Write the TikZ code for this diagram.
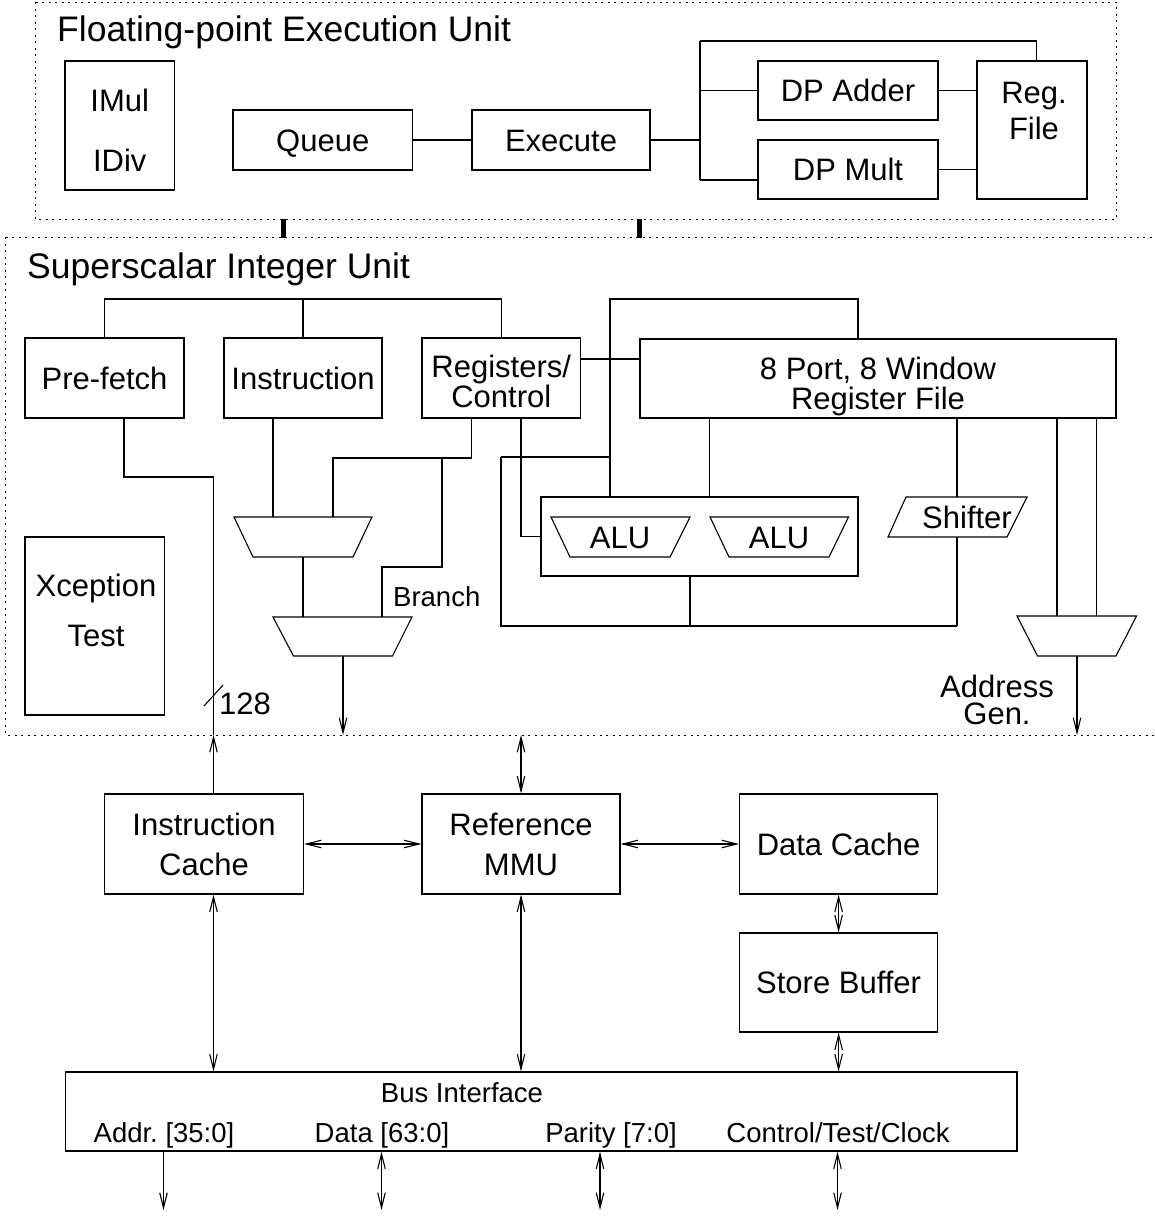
\documentclass[tikz,border=0pt]{standalone}
\usepackage{fontspec}
\setmainfont{Liberation Sans}
\usetikzlibrary{arrows.meta}
\frenchspacing

\tikzset{
  one/.style={text height=22.2pt, text depth=0pt},
  onesmall/.style={text height=19.7pt, text depth=0pt},
  blk/.style={draw, line width=1.1pt, inner sep=0pt, align=center,
              font=\fontsize{31}{30}\selectfont},
  lbl/.style={inner sep=0pt, align=center, font=\fontsize{31}{30}\selectfont},
  small/.style={inner sep=0pt, align=center, font=\fontsize{27.5}{30}\selectfont, onesmall},
  heading/.style={inner sep=0pt, anchor=base west, font=\fontsize{35.5}{40}\selectfont},
  unitbox/.style={draw, line width=1pt, dash pattern=on 2pt off 4.5pt},
  wire/.style={line width=1.1pt},
  shp/.style={draw, line width=1.1pt},
  barb/.tip={Straight Barb[length=15pt,width=7.5pt]},
  arr/.style={wire, -barb},
  darr/.style={wire, barb-barb},
  link/.style={line width=5pt}
}

\begin{document}
\begin{tikzpicture}[x=1pt,y=-1pt]
\useasboundingbox (0,0) rectangle (1155,1218);

% ---------------- Floating-point execution unit ----------------
\draw[unitbox] (35,2) rectangle (1116,219);
\node[heading] (fptitle) at (57,41) {Floating-point Execution Unit};

\node[blk, minimum width=109.5pt, minimum height=129pt] (imul) at (119.75,125.5) {};
\node[lbl, one] (imultxt) at (119.75,100) {IMul};
\node[lbl, one] (idivtxt) at (119.75,160) {IDiv};

\node[blk, one, minimum width=179.5pt, minimum height=60pt] (queue) at (322.75,140) {Queue};
\node[blk, one, minimum width=178pt, minimum height=60pt] (exec) at (561,140) {Execute};
\node[blk, one, minimum width=180pt, minimum height=59pt] (dpadd) at (848,90.5) {DP Adder};
\node[blk, one, minimum width=180pt, minimum height=59pt] (dpmul) at (848,169.5) {DP Mult};
\node[blk, minimum width=110pt, minimum height=138pt] (regf) at (1032,130) {};
\node[lbl, font=\fontsize{31}{36}\selectfont] (regftxt) at (1034,111) {Reg.\\File};

\coordinate (fpbus) at (700,140);
\coordinate (fptop) at (700,41);
\coordinate (fpbot) at (700,180);
\draw[wire] (queue) -- (exec);
\draw[wire] (exec.east) -- (fpbus);
\draw[wire] (fptop) -- (fpbot);
\draw[wire] (fptop) -| ([xshift=4.5pt]regf.north);
\draw[wire] (fptop |- dpadd.west) -- (dpadd.west);
\draw[wire] (fpbot) -- (dpmul.west |- fpbot);
\draw[wire] (dpadd.east) -- (regf.west |- dpadd.east);
\draw[wire] (dpmul.east) -- (regf.west |- dpmul.east);

% links between the two units
\draw[link] (283,219) -- (283,238);
\draw[link] (639,219) -- (639,238);

% ---------------- Superscalar integer unit ----------------
\draw[unitbox] (5.5,237) -- (1170,237);
\draw[unitbox] (5.5,237) -- (5.5,735) -- (1170,735);
\node[heading] (iutitle) at (27,278) {Superscalar Integer Unit};

\node[blk, one, minimum width=159pt, minimum height=80pt] (pf) at (104.5,378) {Pre-fetch};
\node[blk, one, minimum width=158pt, minimum height=80pt] (ins) at (303,378) {Instruction};
\node[blk, minimum width=158.5pt, minimum height=80pt] (rc) at (501.25,378) {};
\node[lbl] (rctxt) at (501.25,381.5) {Registers/\\Control};
\node[blk, minimum width=476pt, minimum height=79pt] (rf) at (878,378.5) {};
\node[lbl] (rftxt) at (878,386) {8 Port, 8 Window\\Register File};
\node[blk, minimum width=139.5pt, minimum height=178pt] (xt) at (94.75,626) {};
\node[lbl, one] (xttxt1) at (96,585) {Xception};
\node[lbl, one] (xttxt2) at (96,635) {Test};
\node[blk, minimum width=317pt, minimum height=79pt] (aluc) at (699.5,536.5) {};

% multiplexers and function units
\draw[shp] (234,517) -- (372,517) -- (353,557) -- (253,557) -- cycle;
\draw[shp] (273,617) -- (412,617) -- (392.5,656) -- (293.5,656) -- cycle;
\draw[shp] (1017,616) -- (1136.5,616) -- (1116,656) -- (1037.5,656) -- cycle;
\draw[shp] (551,517) -- (690,517) -- (670,557) -- (570,557) -- cycle;
\draw[shp] (710,517) -- (848.5,517) -- (829,557) -- (729,557) -- cycle;
\draw[shp] (906,497) -- (1027,497) -- (1007,537) -- (888,537) -- cycle;
\node[lbl, one] (alu1) at (620,537) {ALU};
\node[lbl, one] (alu2) at (779,537) {ALU};
\node[lbl, one] (shift) at (967,517) {Shifter};

\coordinate (mux1in) at (273,517);
\coordinate (mux1sel) at (333,517);
\coordinate (mux1out) at (303,557);
\coordinate (mux2in) at (303,617);
\coordinate (mux2sel) at (382,617);
\coordinate (mux2out) at (343,656);
\coordinate (mux3a) at (1057,616);
\coordinate (mux3b) at (1096.5,616);
\coordinate (mux3out) at (1077,656);
\coordinate (shin) at (957,497);
\coordinate (shout) at (957,537);

% control and data wiring
\draw[wire] (pf.north) -- (pf.north |- 0,299) -- (rc.north |- 0,299) -- (rc.north);
\draw[wire] (ins.north) -- (ins.north |- 0,299);
\draw[wire] ([xshift=19.5pt]pf.south) |- (213.5,477) -- (213.5,735);
\draw[wire] (204,706) -- (223,685);
\node[lbl, one, anchor=west] (width) at (219,703) {128};
\draw[wire] ([xshift=-30pt]ins.south) -- (mux1in);
\draw[wire] ([xshift=-29.75pt]rc.south) |- (333,458) -- (mux1sel);
\draw[wire] (442,458) |- (382,567) -- (mux2sel);
\node[small, anchor=west] (branch) at (393,597) {Branch};
\draw[wire] (mux1out) -- (mux2in);
\draw[arr] (mux2out) -- (343,735);
\draw[wire] ([xshift=19.75pt]rc.south) |- (aluc.west);
\draw[wire] (rc.east |- 0,359) -- (rf.west |- 0,359);
\draw[wire] (501,457) -- (610,457);
\draw[wire] (501,457) |- (957,626);
\draw[wire] (aluc.north -| 610,0) -- (610,299) -| (rf.north -| 858,0);
\draw[wire] (rf.south -| 709.5,0) -- (aluc.north -| 709.5,0);
\draw[wire] (aluc.south -| 690,0) -- (690,626);
\draw[wire] (rf.south -| shin) -- (shin);
\draw[wire] (shout) -- (957,626);
\draw[wire] (rf.south -| mux3a) -- (mux3a);
\draw[wire] (rf.south -| mux3b) -- (mux3b);
\draw[arr] (mux3out) -- (1077,735);
\node[lbl, one] (agen1) at (997,686) {Address};
\node[lbl, one] (agen2) at (997,713) {Gen.};

% ---------------- Caches, MMU and bus interface ----------------
\node[blk, minimum width=199pt, minimum height=100pt, font=\fontsize{31}{40}\selectfont] (ic) at (204,844) {Instruction\\Cache};
\node[blk, minimum width=198pt, minimum height=100pt, font=\fontsize{31}{40}\selectfont] (mmu) at (521,844) {Reference\\MMU};
\node[blk, one, minimum width=198pt, minimum height=100pt] (dc) at (838.6,844) {Data Cache};
\node[blk, one, minimum width=198pt, minimum height=99pt] (sb) at (838.6,982.5) {Store Buffer};
\node[blk, minimum width=951.5pt, minimum height=79pt] (bif) at (541.25,1111.5) {};
\node[small] (biftxt) at (462,1093) {Bus Interface};
\node[small] (addr) at (164,1133) {Addr. [35:0]};
\node[small] (data) at (382,1133) {Data [63:0]};
\node[small] (par) at (611,1133) {Parity [7:0]};
\node[small] (ctl) at (838,1133) {Control/Test/Clock};

\draw[arr] ([xshift=9.5pt]ic.north) -- (213.5,735);
\draw[darr] (mmu.north) -- (521,735);
\draw[darr] (ic.east) -- (mmu.west);
\draw[darr] (mmu.east) -- (dc.west);
\draw[darr] ([xshift=9.5pt]ic.south) -- (bif.north -| 213.5,0);
\draw[darr] (mmu.south) -- (bif.north -| mmu.south);
\draw[darr] (dc.south) -- (sb.north);
\draw[darr] (sb.south) -- (bif.north -| sb.south);

\coordinate (paddr) at (163.5,1210);
\coordinate (pdata) at (381.5,1210);
\coordinate (ppar) at (600,1210);
\coordinate (pctl) at (837.5,1210);
\draw[arr] (bif.south -| paddr) -- (paddr);
\draw[darr] (bif.south -| pdata) -- (pdata);
\draw[darr] (bif.south -| ppar) -- (ppar);
\draw[darr] (bif.south -| pctl) -- (pctl);
\end{tikzpicture}
\end{document}
